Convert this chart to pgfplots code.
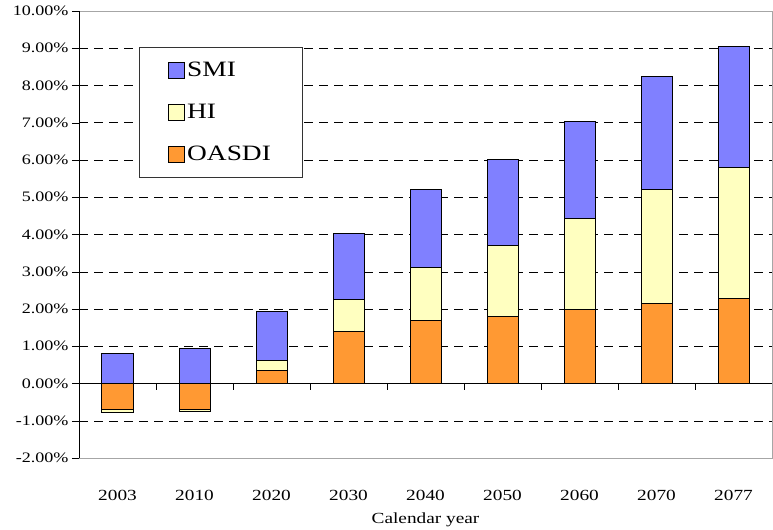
\documentclass[border=0pt]{standalone}
\usepackage{pgfplots}
\usepackage{pgfplotstable}
\usepackage{fontspec}
\setmainfont[FakeStretch=1.25]{Liberation Serif}
\pgfplotsset{compat=1.18}

\definecolor{smi}{HTML}{8080FF}
\definecolor{hi}{HTML}{FFFFC0}
\definecolor{oasdi}{HTML}{FF9933}

% cost components, percent of taxable payroll
\pgfplotstableread{
year oasdi hi smi
2003 -0.71 -0.07 0.81
2010 -0.70 -0.06 0.93
2020 0.35 0.27 1.32
2030 1.40 0.85 1.79
2040 1.68 1.44 2.09
2050 1.79 1.92 2.29
2060 2.00 2.42 2.61
2070 2.15 3.06 3.02
2077 2.27 3.54 3.24
}\costs

\begin{document}
\begin{tikzpicture}
\begin{axis}[
    name=ax,
    scale only axis,
    width=693bp, height=447bp,
    xmin=-0.5, xmax=8.5,
    ymin=-2, ymax=10,
    ytick={-2,-1,...,10},
    xtick={0,...,8},
    xticklabels={2003,2010,2020,2030,2040,2050,2060,2070,2077},
    xtick style={draw=none},
    ytick style={black},
    tick align=outside,
    major tick length=7bp,
    axis line style={gray!70},
    ymajorgrids,
    major grid style={black, dash pattern=on 9bp off 6bp, line width=0.5bp},
    extra y ticks={0},
    extra y tick labels={},
    extra y tick style={grid=major, major grid style={black, solid, line width=0.8bp}, major tick length=0pt},
    yticklabel={\pgfmathprintnumber[fixed,fixed zerofill,precision=2,assume math mode=true]{\tick}\%},
    yticklabel style={font=\fontsize{14.5}{16}\selectfont},
    xticklabel style={font=\fontsize{15.5}{17}\selectfont, anchor=base, yshift=-35bp},
    xlabel={Calendar year},
    xlabel style={font=\fontsize{15.5}{17}\selectfont, at={(axis description cs:0.5,-0.1454)}, anchor=base},
    ybar, bar width=31bp, bar shift=0pt,
    every axis plot/.append style={draw=black, line width=1bp},
    legend image code/.code={\draw[#1,line width=0.8bp] (-4bp,-8bp) rectangle (12bp,8bp);},
    legend style={at={(axis description cs:0.0866,0.9195)}, anchor=north west,
        draw=black!80, line width=0.8bp, font=\fontsize{22}{25}\selectfont,
        inner xsep=29bp, inner ysep=13bp, row sep=22bp},
    legend cell align=left,
]
\addplot[fill=smi] table[x expr=\coordindex, y expr={max(\thisrow{oasdi},0)+max(\thisrow{hi},0)+\thisrow{smi}}] {\costs};
\addplot[fill=hi] table[x expr=\coordindex, y expr={\thisrow{oasdi}+\thisrow{hi}}] {\costs};
\addplot[fill=oasdi] table[x expr=\coordindex, y=oasdi] {\costs};
\legend{SMI,HI,OASDI}
\pgfplotsinvokeforeach{0.5,1.5,2.5,3.5,4.5,5.5,6.5,7.5}{
  \draw[black, line width=0.8bp] (axis cs:#1,0) -- ++(0bp,-6bp);
}
\end{axis}
\draw[black, line width=1bp] (ax.south west) -- (ax.north west);
\pgfresetboundingbox
\path[use as bounding box] ([xshift=-79bp,yshift=-71bp]ax.south west) rectangle ([xshift=1bp,yshift=11bp]ax.north east);
\end{tikzpicture}
\end{document}
